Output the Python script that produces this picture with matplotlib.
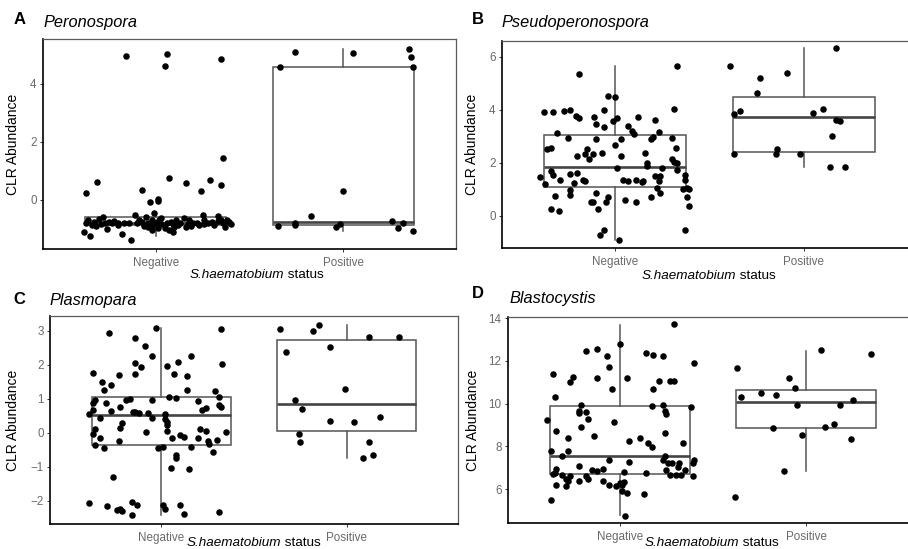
import matplotlib
matplotlib.use("Agg")
import matplotlib.pyplot as plt

plt.rcParams['font.family'] = ['Liberation Sans', 'DejaVu Sans']

categories = ["Negative", "Positive"]
panel_letters = ["A", "B", "C", "D"]
panel_titles = ["Peronospora", "Pseudoperonospora", "Plasmopara", "Blastocystis"]
x_label_italic = "S.haematobium"
x_label_rest = " status"
y_label = "CLR Abundance"

# ---------------- Panel A : Peronospora ----------------
A_neg_jit = [-0.16, 0.06, 0.05, 0.35, 0.36, 0.07, -0.31, -0.37, 0.16, 0.29, 0.24, 0.35, -0.07, 0.01, 0.01, -0.03,
             -0.38, -0.35, -0.13, -0.18, 0.09, -0.02,
             -0.36, -0.34, -0.33, -0.30, -0.28, -0.26, -0.25, -0.22, -0.20, -0.17, -0.11, -0.09, -0.07, -0.05,
             -0.04, -0.02, -0.01, 0.00, 0.02, 0.03, 0.05, 0.06, 0.08, 0.10, 0.11, 0.13, 0.15, 0.17, 0.18, 0.20,
             0.22, 0.25, 0.26, 0.28, 0.30, 0.33, 0.35, 0.36, 0.38, 0.39, 0.40, -0.37, -0.32, -0.29, -0.27, -0.23,
             -0.20, -0.14, -0.10, -0.06, -0.04, -0.02, 0.01, 0.03, 0.07, 0.09, 0.12, 0.16, 0.19, 0.23, 0.26, 0.31,
             0.33, 0.37]
A_neg_y = [4.98, 5.03, 4.63, 4.87, 1.44, 0.77, 0.61, 0.23, 0.59, 0.70, 0.31, 0.52, 0.34, 0.02, -0.02, -0.08,
           -1.11, -1.25, -1.37, -1.16, -1.11, -1.03,
           -0.70, -0.86, -0.75, -0.64, -0.58, -0.99, -0.75, -0.71, -0.86, -0.78, -0.52, -0.69, -0.75, -0.58,
           -0.80, -0.69, -0.46, -0.80, -0.69, -0.63, -0.98, -0.80, -0.75, -0.92, -0.69, -0.80, -0.63, -0.83, -0.69, -0.80,
           -0.78, -0.52, -0.69, -0.78, -0.75, -0.55, -0.69, -0.80, -0.69, -0.75, -0.83, -0.78, -0.90, -0.83, -0.78, -0.80,
           -0.78, -0.78, -0.80, -0.90, -0.92, -0.90, -0.98, -0.83, -1.03, -0.83, -0.86, -0.92, -0.90, -0.86, -0.83, -0.86,
           -0.72, -0.92]
A_pos_jit = [-0.34, -0.26, 0.05, 0.35, 0.36, 0.37, -0.17, 0.00, -0.35, -0.26, -0.26, -0.04, -0.02, 0.26, 0.29, 0.32, 0.37]
A_pos_y = [4.59, 5.09, 5.08, 5.21, 4.94, 4.59, -0.54, 0.32, -0.89, -0.87, -0.80, -0.92, -0.83, -0.71, -0.95, -0.80, -1.06]
# box stats: median, q1, q3, lower whisker, upper whisker
A_neg_box = [-0.78, -0.86, -0.60, -1.25, -0.46]
A_pos_box = [-0.76, -0.87, 4.60, -1.06, 5.21]

# ---------------- Panel B : Pseudoperonospora ----------------
B_neg_jit = [-0.40, -0.38, -0.36, -0.34, -0.33, -0.31, -0.34, -0.33, -0.37, -0.34, -0.32, -0.30, -0.29, -0.27,
             -0.24, -0.25, -0.24, -0.24, -0.24, -0.22, -0.21, -0.20, -0.19, -0.19, -0.20, -0.17, -0.16, -0.16,
             -0.15, -0.14, -0.12, -0.11, -0.10, -0.10, -0.10, -0.13, -0.12, -0.09, -0.08, -0.06, -0.07, -0.06,
             -0.06, -0.05, -0.04, -0.04, 0.00, -0.01, 0.01, 0.00, 0.01, 0.02, 0.03, 0.03, 0.04, 0.05, 0.07, 0.07,
             0.09, 0.10, 0.11, 0.11, 0.12, 0.14, 0.15, 0.16, 0.17, 0.17, 0.19, 0.19, 0.20, 0.21, 0.21, 0.22,
             0.23, 0.23, 0.24, 0.24, 0.25, 0.30, 0.31, 0.30, 0.32, 0.33, 0.31, 0.33, 0.33, 0.37, 0.37, 0.36,
             0.38, 0.39, 0.38, 0.39, 0.37]
B_neg_y = [1.46, 3.94, 2.51, 2.57, 3.94, 3.14, 1.68, 1.56, 1.20, 0.25, 0.77, 0.19, 1.37, 3.96,
           3.99, 2.95, 1.57, 0.99, 0.80, 1.24, 3.78, 2.25, 5.35, 3.71, 1.62, 1.37, 2.34, 1.30,
           2.53, 2.15, 2.35, 3.73, 3.48, 2.89, 0.86, 0.51, 0.51, 0.27, -0.72, -0.53, 2.38, 3.99,
           3.35, 0.51, 0.73, 4.53, 4.47, 3.58, 3.71, 2.66, 1.81, -0.91, 2.89, 2.25, 1.37, 0.61, 1.30, 3.39,
           3.20, 3.08, 0.54, 1.37, 3.73, 1.28, 1.30, 2.38, 2.00, 1.87, 0.73, 2.89, 2.97, 3.62, 1.49, 1.05,
           3.16, 1.30, 0.86, 1.49, 1.81, 2.95, 4.05, 2.13, 2.57, 5.67, 2.04, 1.72, 2.00, 1.56, 1.37, 1.03,
           1.05, 1.01, 0.73, 0.38, -0.53]
B_pos_jit = [-0.39, -0.23, -0.09, -0.25, 0.17, -0.37, -0.34, 0.05, 0.10, 0.17, 0.19, 0.15, -0.37, -0.15,
             -0.14, -0.02, 0.14, 0.22]
B_pos_y = [5.65, 5.19, 5.39, 4.62, 6.33, 3.84, 3.97, 3.90, 4.03, 3.62, 3.58, 3.01, 2.32, 2.35,
           2.51, 2.32, 1.85, 1.85]
B_neg_box = [1.84, 1.09, 3.04, -0.91, 5.67]
B_pos_box = [3.73, 2.41, 4.47, 1.85, 6.33]

# ---------------- Panel C : Plasmopara ----------------
C_neg_jit = [-0.39, -0.29, -0.24, -0.22, -0.21, -0.16, -0.16, -0.13, 0.01, 0.02, 0.10, 0.12, 0.31, -0.26,
             0.05, 0.15, 0.08, 0.08, -0.02, 0.01, 0.16, 0.28, -0.36, -0.31, -0.33, -0.23, -0.37, -0.36,
             -0.22, -0.21, -0.08, 0.03, 0.06, 0.10, 0.12, 0.20, 0.21, 0.24, 0.25, 0.26, 0.30, 0.35,
             -0.39, -0.37, -0.33, -0.37, -0.36, -0.30, -0.27, -0.22, -0.19, -0.17, -0.15, -0.14, -0.12, -0.07,
             -0.05, -0.05, 0.02, 0.02, 0.03, 0.03, 0.04, 0.08, 0.14, 0.20, 0.22, 0.24, 0.29, 0.31, 0.31, 0.32,
             -0.37, -0.32, -0.31, -0.27, -0.23, -0.14, -0.14, -0.11, -0.28, -0.14, -0.09, -0.05, -0.03, 0.03,
             0.07, 0.09, 0.14, 0.16, 0.33, 0.32]
C_neg_y = [-2.05, -2.16, -2.27, -2.24, -2.29, -2.02, -2.41, -2.12, -2.12, -2.25, -2.11, -2.39, -2.34, -1.30,
           -1.02, -1.06, -0.75, -0.65, -0.45, -0.42, -0.42, -0.57, -0.35, -0.45, -0.16, -0.24, -0.02, 0.11,
           0.14, 0.30, 0.04, 0.06, -0.16, -0.06, -0.12, -0.16, 0.11, 0.06, -0.23, -0.32, -0.21, 0.04,
           0.55, 0.68, 0.43, 0.87, 0.97, 0.89, 0.65, 0.77, 0.97, 1.00, 0.61, 0.61, 0.60, 0.58,
           0.43, 0.96, 0.55, 0.41, 0.33, 0.24, 1.07, 1.02, 1.26, 0.94, 0.68, 0.73, 1.22, 1.07, 0.82, 0.77,
           1.75, 1.51, 1.26, 1.41, 1.71, 1.73, 2.05, 1.93, 2.93, 2.78, 2.56, 2.27, 3.10, 1.98,
           1.74, 2.08, 1.66, 2.27, 2.02, 3.05]
C_pos_jit = [-0.36, -0.33, -0.18, -0.15, -0.09, -0.01, 0.12, 0.28, -0.28, -0.24, -0.09, 0.04, 0.18, -0.26,
             -0.25, 0.12, 0.09, 0.14]
C_pos_y = [3.05, 2.39, 3.00, 3.18, 2.52, 1.29, 2.81, 2.81, 0.97, 0.69, 0.35, 0.32, 0.46, -0.02,
           -0.28, -0.28, -0.75, -0.65]
C_neg_box = [0.53, -0.35, 1.06, -2.41, 3.08]
C_pos_box = [0.84, 0.07, 2.74, -0.75, 3.18]

# ---------------- Panel D : Blastocystis ----------------
D_neg_jit = [-0.39, -0.37, -0.37, -0.36, -0.35, -0.34, -0.36, -0.35, -0.34, -0.34, -0.31, -0.31, -0.29, -0.29,
             -0.28, -0.28, -0.28, -0.27, -0.27, -0.25, -0.22, -0.21, -0.22, -0.21, -0.22, -0.22, -0.18, -0.18,
             -0.18, -0.17, -0.17, -0.15, -0.14, -0.12, -0.12, -0.12, -0.09, -0.09, -0.07, -0.06, -0.06, -0.06,
             -0.04, -0.03, -0.02, 0.00, 0.00, 0.01, 0.01, 0.02, 0.02, 0.03, 0.04, 0.04, 0.05, 0.05, 0.11, 0.13,
             0.14, 0.14, 0.15, 0.17, 0.17, 0.18, 0.18, 0.21, 0.23, 0.23, 0.23, 0.24, 0.25, 0.24, 0.24, 0.25,
             0.26, 0.27, 0.27, 0.28, 0.29, 0.29, 0.30, 0.31, 0.32, 0.33, 0.34, 0.35, 0.38, 0.39, 0.39, 0.40, 0.40]
D_neg_y = [9.24, 7.76, 5.48, 11.39, 10.30, 8.73, 6.71, 6.74, 6.93, 6.20, 7.56, 6.67, 6.48, 6.15,
           8.38, 7.79, 6.39, 6.59, 11.00, 11.24, 6.36, 8.90, 7.06, 9.94, 9.55, 9.66, 12.44, 9.59,
           6.62, 9.29, 6.48, 6.90, 8.46, 11.19, 6.82, 12.56, 6.93, 6.39, 12.21, 11.71, 6.20, 7.37,
           10.68, 9.13, 6.12, 12.80, 6.28, 5.89, 6.17, 6.32, 6.78, 4.76, 11.19, 5.81, 8.23, 7.25, 8.38, 5.76,
           12.36, 6.73, 8.15, 7.96, 9.90, 12.28, 10.68, 11.07, 12.21, 7.37, 9.94, 9.66, 9.49, 8.62, 7.56, 6.90,
           7.21, 6.67, 11.04, 7.21, 13.72, 11.07, 6.64, 7.01, 7.21, 6.64, 8.15, 6.90, 9.84, 6.62, 7.21, 7.37, 11.89]
D_pos_jit = [-0.37, -0.35, -0.24, -0.16, -0.09, -0.06, -0.05, 0.08, 0.18, 0.25, 0.35, -0.18, -0.02, 0.10,
             0.15, 0.24, -0.12, -0.38]
D_pos_y = [11.66, 10.30, 10.49, 10.41, 11.19, 10.72, 9.91, 12.52, 9.94, 10.18, 12.33, 8.84, 8.54, 8.88,
           9.02, 8.32, 6.82, 5.62]
D_neg_box = [7.53, 6.70, 9.87, 4.80, 13.69]
D_pos_box = [10.07, 8.84, 10.65, 6.82, 12.47]

A_yticks = [0, 2, 4]
B_yticks = [0, 2, 4, 6]
C_yticks = [-2, -1, 0, 1, 2, 3]
D_yticks = [6, 8, 10, 12, 14]

panels = [
    (A_neg_jit, A_neg_y, A_pos_jit, A_pos_y, A_neg_box, A_pos_box, A_yticks),
    (B_neg_jit, B_neg_y, B_pos_jit, B_pos_y, B_neg_box, B_pos_box, B_yticks),
    (C_neg_jit, C_neg_y, C_pos_jit, C_pos_y, C_neg_box, C_pos_box, C_yticks),
    (D_neg_jit, D_neg_y, D_pos_jit, D_pos_y, D_neg_box, D_pos_box, D_yticks),
]

# ---------------- layout (pixels of a 908x549 canvas) ----------------
W, H = 908, 549
axes_px = [(43, 456, 39, 249), (502, 917, 41, 248), (50, 458, 316, 524), (508, 918, 317, 523)]
ylims = [(-1.69, 5.55), (-1.21, 6.6), (-2.68, 3.44), (4.41, 14.05)]
letter_px = [(20, 19), (478, 19), (19, 300), (478, 294)]
title_px = [(43, 23), (502, 23), (50, 300), (509, 299)]
ylab_px = [20, 479, 20, 480]
xlab_px = [(257, 275), (709, 276), (254, 543), (712, 543)]

fig = plt.figure(figsize=(W / 100, H / 100), dpi=100)
box_col = '#555555'

def fx(x):
    return x / W

def fy(y):
    return 1 - y / H

renderer = fig.canvas.get_renderer()

for i, (nj, ny, pj, py, nb, pb, yt) in enumerate(panels):
    l, r, t, b = axes_px[i]
    ax = fig.add_axes([fx(l), fy(b), (r - l) / W, (b - t) / H])
    stats = []
    for bx, lab in zip([nb, pb], categories):
        stats.append(dict(med=bx[0], q1=bx[1], q3=bx[2], whislo=bx[3], whishi=bx[4], label=lab))
    ax.bxp(stats, positions=[1, 2], widths=0.75, showfliers=False, showcaps=False,
           patch_artist=True,
           boxprops=dict(facecolor='white', edgecolor=box_col, linewidth=1.1),
           whiskerprops=dict(color=box_col, linewidth=1.1),
           medianprops=dict(color='#444444', linewidth=1.9),
           zorder=1)
    ax.scatter([1 + v for v in nj], ny, s=22, color='black', zorder=3, linewidths=0)
    ax.scatter([2 + v for v in pj], py, s=22, color='black', zorder=3, linewidths=0)
    ax.set_xlim(0.4, 2.6)
    ax.set_ylim(*ylims[i])
    ax.set_xticks([1, 2])
    ax.set_xticklabels(categories)
    ax.set_yticks(yt)
    ax.set_yticklabels([str(v).replace('-', '\u2212') for v in yt])
    for s in ['left', 'bottom']:
        ax.spines[s].set_color('black')
        ax.spines[s].set_linewidth(1.2)
    for s in ['top', 'right']:
        ax.spines[s].set_color('#5a5a5a')
        ax.spines[s].set_linewidth(0.9)
    ax.tick_params(axis='both', length=2.4, width=0.7, color='#333333', labelsize=8.4,
                   labelcolor='#6a6a6a')
    ax.tick_params(axis='x', pad=3.2)
    ax.tick_params(axis='y', pad=2.2)
    ax.set_ylabel(y_label, fontsize=10, color='black')
    ax.yaxis.set_label_coords(fx(ylab_px[i]), fy((t + b) / 2), transform=fig.transFigure)

    # x axis title: italic species name + upright "status", centred as one line
    cx, cy = xlab_px[i]
    t1 = fig.text(0, fy(cy), x_label_italic, fontsize=9.7, style='italic', ha='left', va='center')
    t2 = fig.text(0, fy(cy), x_label_rest, fontsize=9.7, ha='left', va='center')
    w1 = t1.get_window_extent(renderer).width
    w2 = t2.get_window_extent(renderer).width
    x0 = cx - (w1 + w2) / 2
    t1.set_x(fx(x0))
    t2.set_x(fx(x0 + w1))

    fig.text(fx(letter_px[i][0]), fy(letter_px[i][1]), panel_letters[i], fontsize=12,
             fontweight='bold', ha='center', va='center')
    fig.text(fx(title_px[i][0]), fy(title_px[i][1]), panel_titles[i], fontsize=11.8,
             style='italic', ha='left', va='center')

fig.savefig('out.png', dpi=100)
